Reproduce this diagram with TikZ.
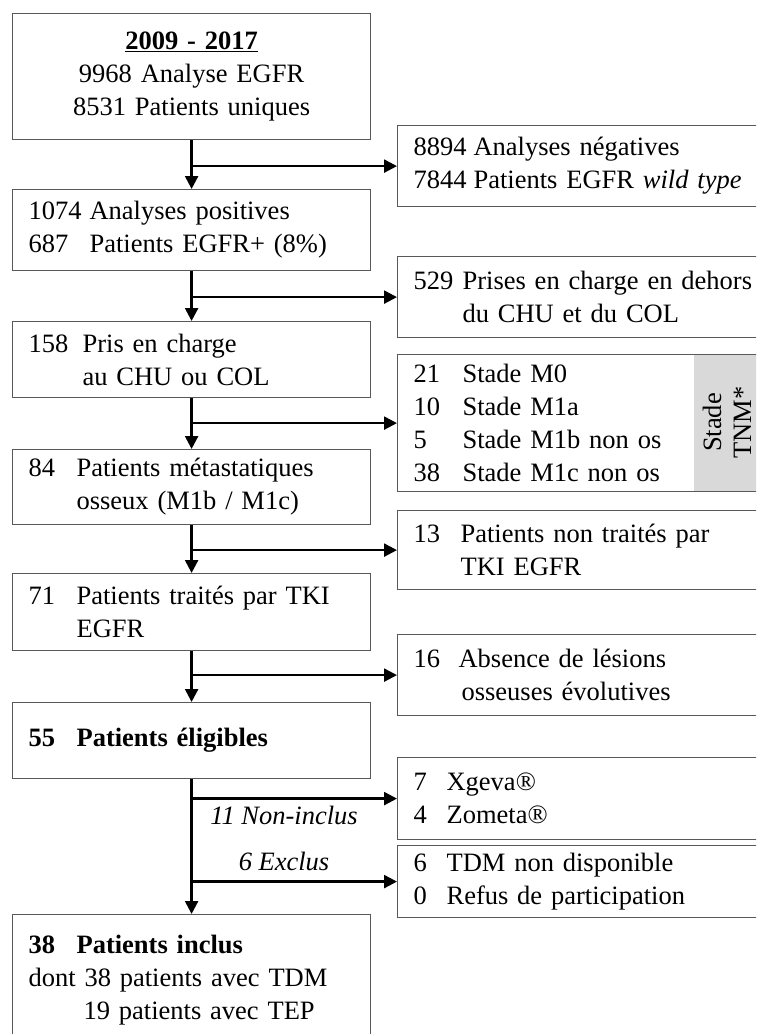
\documentclass[tikz,border=0pt]{standalone}
\usepackage{fontspec}
\setmainfont{Liberation Serif}
\usetikzlibrary{arrows.meta}
\tikzset{
    box/.style={draw=black!65, line width=1.2pt, anchor=north west, inner xsep=16pt, inner ysep=0pt, align=left},
    lbox/.style={box, text width=326pt},
    rbox/.style={box, text width=342pt},
    arr/.style={-{Triangle[length=13pt,width=13pt]}, line width=2.4pt},
}
\newcommand{\col}[2]{\makebox[#1][l]{#2}}

\begin{document}
\begin{tikzpicture}[x=1pt,y=-1pt,font=\fontsize{26.5}{33}\selectfont]
            \clip (0,0) rectangle (756,1034);
            \fill[white] (0,0) rectangle (756,1034);
            \node[lbox, align=center, minimum height=126pt] (b1) at (12,13) {\underline{\textbf{2009 - 2017}}\\9968 Analyse EGFR\\8531 Patients uniques};
            \node[lbox, minimum height=81pt] (b2) at (12,189) {\col{61pt}{1074}Analyses positives\\\col{61pt}{687}Patients EGFR+ (8\%)};
            \node[lbox, minimum height=76pt] (b3) at (12,321) {\col{54pt}{158}Pris en charge\\\col{54pt}{}au CHU ou COL};
            \node[lbox, minimum height=75pt] (b4) at (12,449) {\col{48pt}{84}Patients métastatiques\\\col{48pt}{}osseux (M1b / M1c)};
            \node[lbox, minimum height=77pt] (b5) at (12,573) {\col{48pt}{71}Patients traités par TKI\\\col{48pt}{}EGFR};
            \node[lbox, minimum height=76pt] (b6) at (12,702) {\textbf{\col{48pt}{55}Patients éligibles}};
            \node[lbox, minimum height=131pt] (b7) at (12,914) {\textbf{\col{48pt}{38}Patients inclus}\\dont 38 patients avec TDM\\\hspace*{55pt}19 patients avec TEP};
            \node[rbox, minimum height=81pt] (r1) at (397,125) {\col{60pt}{8894}Analyses négatives\\\col{60pt}{7844}Patients EGFR \textit{wild type}};
            \node[rbox, minimum height=81pt] (r2) at (397,256) {\col{49pt}{529}Prises en charge en dehors\\\col{49pt}{}du CHU et du COL};
            \fill[black!15] (694,354) rectangle (771,491);
            \node[rotate=90, inner sep=0pt, align=center, font=\fontsize{26.5}{30}\selectfont] (tnm) at (727,422.5) {Stade\\TNM*};
            \node[rbox, minimum height=137pt] (r3) at (397,354) {\col{49pt}{21}Stade M0\\\col{49pt}{10}Stade M1a\\\col{49pt}{5}Stade M1b non os\\\col{49pt}{38}Stade M1c non os};
            \node[rbox, minimum height=79pt] (r4) at (397,510) {\col{47pt}{13}Patients non traités par\\\col{47pt}{}TKI EGFR};
            \node[rbox, minimum height=81pt] (r5) at (397,634) {\col{45pt}{16}Absence de lésions\\\col{48pt}{}osseuses évolutives};
            \node[rbox, minimum height=82pt] (r6) at (397,757) {\col{33pt}{7}Xgeva®\\\col{33pt}{4}Zometa®};
            \node[rbox, minimum height=72pt] (r7) at (397,845) {\col{33pt}{6}TDM non disponible\\\col{33pt}{0}Refus de participation};
            \draw[arr] (b1.south) -- (b2.north);
            \draw[arr] (b2.south) -- (b3.north);
            \draw[arr] (b3.south) -- (b4.north);
            \draw[arr] (b4.south) -- (b5.north);
            \draw[arr] (b5.south) -- (b6.north);
            \draw[arr] (b6.south) -- (b7.north);
            \draw[arr] (b1.south |- r1.west) -- (r1.west);
            \draw[arr] (b2.south |- r2.west) -- (r2.west);
            \draw[arr] (b3.south |- r3.west) -- (r3.west);
            \draw[arr] (b4.south |- r4.west) -- (r4.west);
            \draw[arr] (b5.south |- r5.west) -- (r5.west);
            \draw[arr] (b6.south |- r6.west) -- node[below, pos=0.45, inner sep=6pt] {\itshape 11 Non-inclus} (r6.west);
            \draw[arr] (b6.south |- r7.west) -- node[above, pos=0.45, inner sep=10pt] {\itshape 6 Exclus} (r7.west);
        \end{tikzpicture}
\end{document}
